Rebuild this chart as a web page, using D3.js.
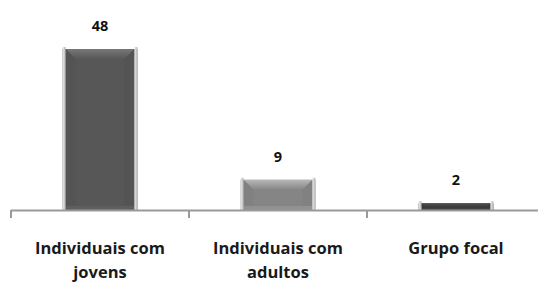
<!DOCTYPE html>
<html><head><meta charset="utf-8">
<script src="https://cdn.jsdelivr.net/npm/d3@7"></script>
<style>body{margin:0;background:#fff}svg{display:block}</style>
</head><body>
<svg id="c" width="538" height="282"></svg>
<script>
const categories = ["Individuais com jovens", "Individuais com adultos", "Grupo focal"];
const labelLines = [["Individuais com", "jovens"], ["Individuais com", "adultos"], ["Grupo focal"]];
const values = [48, 9, 2];
const barColors = ["#575757", "#858585", "#3c3c3c"];

const svg = d3.select("#c");
const x = d3.scaleBand().domain(categories).range([11, 545]).paddingInner(0.58).paddingOuter(0.29);
const y = d3.scaleLinear().domain([0, 48]).range([210, 49]);

const defs = svg.append("defs");
categories.forEach((c, i) => {
  const g = defs.append("linearGradient").attr("id", "side" + i).attr("x1", 0).attr("x2", 1).attr("y1", 0).attr("y2", 0);
  g.append("stop").attr("offset", "0%").attr("stop-color", "#ececec");
  g.append("stop").attr("offset", "100%").attr("stop-color", "#b4b4b4");
  const t = defs.append("linearGradient").attr("id", "top" + i).attr("x1", 0).attr("x2", 0).attr("y1", 0).attr("y2", 1);
  t.append("stop").attr("offset", "0%").attr("stop-color", d3.color(barColors[i]).brighter(0.9));
  t.append("stop").attr("offset", "100%").attr("stop-color", barColors[i]);
});

const bars = svg.append("g").selectAll("g").data(categories).join("g");
bars.each(function(c, i) {
  const g = d3.select(this);
  const x0 = x(c), w = x.bandwidth(), y0 = y(values[i]), h = y(0) - y(values[i]);
  const side = 3;
  const bev = Math.min(10, h / 2);
  g.append("rect").attr("x", x0).attr("y", y0).attr("width", w).attr("height", h).attr("fill", barColors[i]);
  g.append("path").attr("d", `M${x0 + side},${y0} L${x0 + w - side},${y0} L${x0 + w - side - bev},${y0 + bev} L${x0 + side + bev},${y0 + bev} Z`)
    .attr("fill", `url(#top${i})`);
  g.append("path").attr("d", `M${x0 + side},${y0} L${x0 + side + bev},${y0 + bev} L${x0 + side + bev},${y0 + h - 3} L${x0 + side},${y0 + h} Z`)
    .attr("fill", d3.color(barColors[i]).darker(0.15)).attr("opacity", 0.6);
  g.append("path").attr("d", `M${x0 + w - side},${y0} L${x0 + w - side - bev},${y0 + bev} L${x0 + w - side - bev},${y0 + h - 3} L${x0 + w - side},${y0 + h} Z`)
    .attr("fill", d3.color(barColors[i]).darker(0.15)).attr("opacity", 0.6);
  g.append("rect").attr("x", x0 + side).attr("y", y0 + h - Math.min(4, h / 3)).attr("width", w - 2 * side).attr("height", Math.min(4, h / 3))
    .attr("fill", d3.color(barColors[i]).brighter(0.25));
  g.append("rect").attr("x", x0).attr("y", y0 - 2).attr("width", side).attr("height", h + 2).attr("fill", "url(#side" + i + ")");
  g.append("rect").attr("x", x0 + w - side).attr("y", y0 - 2).attr("width", side).attr("height", h + 2).attr("fill", "url(#side" + i + ")");
});

svg.append("g").selectAll("text").data(categories).join("text")
  .attr("x", d => x(d) + x.bandwidth() / 2)
  .attr("y", (d, i) => y(values[i]) - 18)
  .attr("text-anchor", "middle")
  .attr("font-family", "'Open Sans', sans-serif").attr("font-weight", "bold").attr("font-size", 14.5)
  .attr("fill", "#111")
  .text((d, i) => values[i]);

const r = x.range();
const axis = svg.append("g");
axis.append("line").attr("x1", r[0]).attr("x2", 538).attr("y1", y(0) + 0.5).attr("y2", y(0) + 0.5)
  .attr("stroke", "#9a9a9a").attr("stroke-width", 2);
const bounds = d3.range(categories.length + 1).map(i => r[0] + i * x.step());
axis.selectAll("line.t").data(bounds).join("line").attr("class", "t")
  .attr("x1", d => d).attr("x2", d => d).attr("y1", y(0)).attr("y2", y(0) + 8)
  .attr("stroke", "#9a9a9a").attr("stroke-width", 2);

const lab = svg.append("g").selectAll("text").data(categories).join("text")
  .attr("text-anchor", "middle")
  .attr("font-family", "'Open Sans', sans-serif").attr("font-weight", "bold").attr("font-size", 16.5)
  .attr("fill", "#1a1a1a");
lab.each(function(c, i) {
  const t = d3.select(this);
  labelLines[i].forEach((ln, j) => {
    t.append("tspan").attr("x", x(c) + x.bandwidth() / 2).attr("y", 254 + j * 24).text(ln);
  });
});
</script>
</body></html>
